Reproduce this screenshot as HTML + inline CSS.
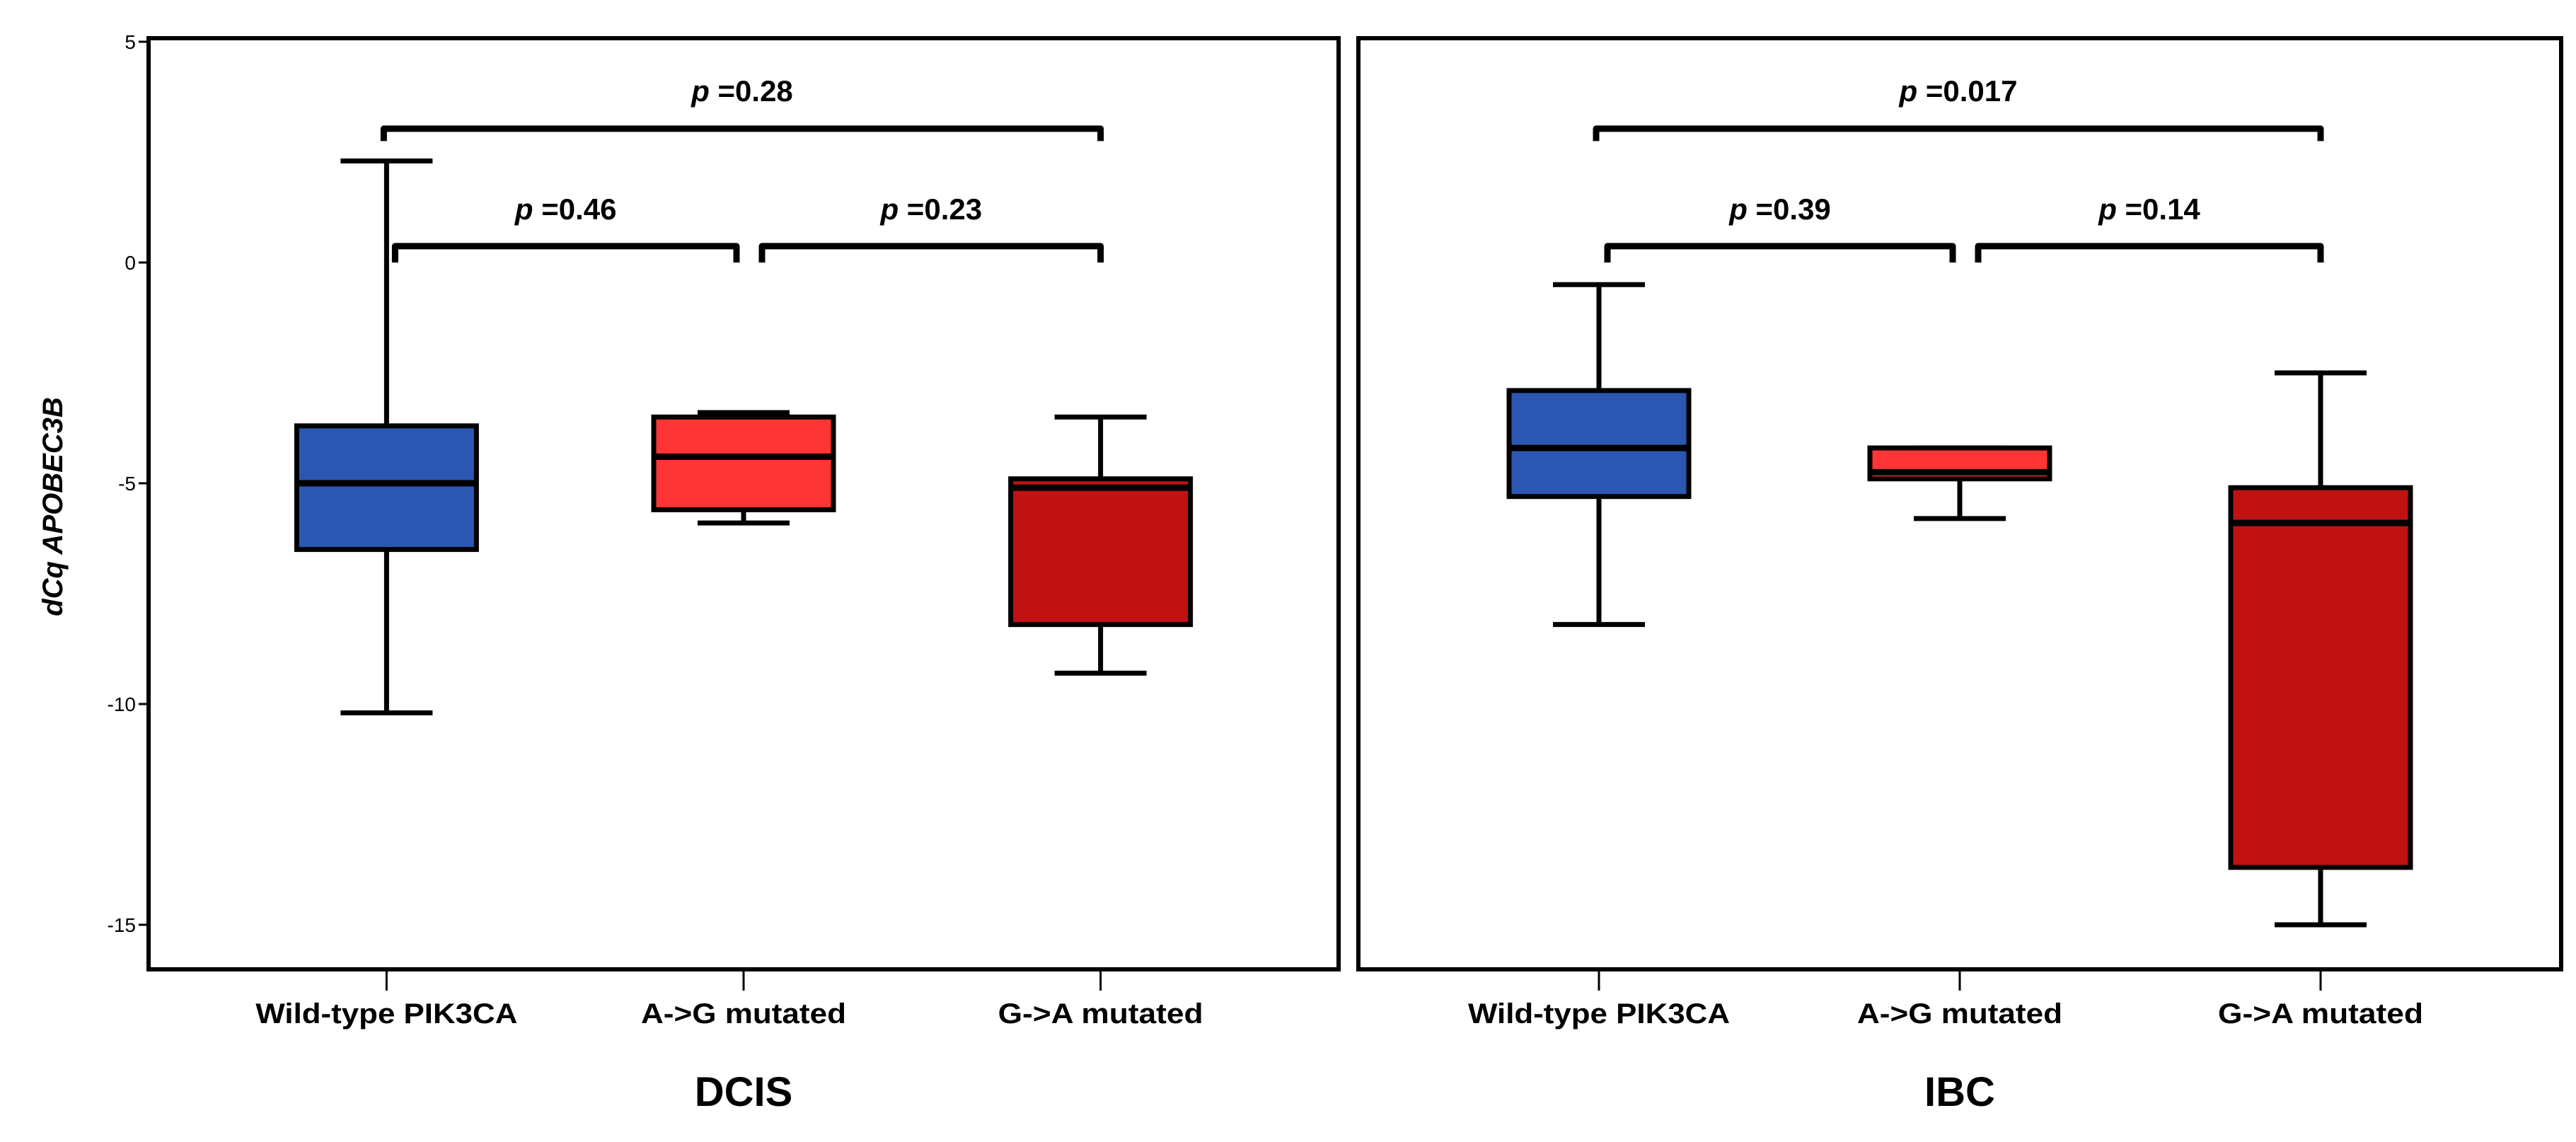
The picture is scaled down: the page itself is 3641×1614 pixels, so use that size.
<!DOCTYPE html>
<html><head><meta charset="utf-8"><style>
html,body{margin:0;padding:0;background:#fff;}
svg text{font-family:"Liberation Sans",Arial,sans-serif;}
</style></head><body>
<svg id="chart" width="3641" height="1609" viewBox="0 0 3641 1609" xmlns="http://www.w3.org/2000/svg">
<rect x="0" y="0" width="3641" height="1609" fill="#fff"/>
<g id="axes"></g>
<g id="marks"></g>
</svg>
<script>
const panels = ["DCIS", "IBC"];
const categories = ["Wild-type PIK3CA", "A->G mutated", "G->A mutated"];
const whiskerHigh = [[2.3, -3.4, -3.5], [-0.5, -4.2, -2.5]];
const q3 = [[-3.7, -3.5, -4.9], [-2.9, -4.2, -5.1]];
const medians = [[-5.0, -4.4, -5.1], [-4.2, -4.75, -5.9]];
const q1 = [[-6.5, -5.6, -8.2], [-5.3, -4.9, -13.7]];
const whiskerLow = [[-10.2, -5.9, -9.3], [-8.2, -5.8, -15.0]];
const pLabels = [["0.28", "0.46", "0.23"], ["0.017", "0.39", "0.14"]];
const yTicks = [5, 0, -5, -10, -15];
const colors = ["#2B57B2", "#FF3535", "#C01212"];

const NS = "http://www.w3.org/2000/svg";
const axes = document.getElementById('axes');
const marks = document.getElementById('marks');
function mk(tag, attrs, parent){const e=document.createElementNS(NS,tag);for(const k in attrs)e.setAttribute(k,attrs[k]);parent.appendChild(e);return e;}
const y = v => 371 - v * 62.4;
const panelX = [[210, 1892], [1920, 3620]];
const top_ = 54, bottom = 1370;
const xCat = (p, i) => { const [a,b] = panelX[p]; const w=b-a; return a + w*(0.2 + 0.3*i); };

yTicks.forEach(t => {
  const l = mk('line', {x1:196, x2:210, y1:y(t), y2:y(t), stroke:'#000','stroke-width':3}, axes);
  
  
  const tx = mk('text', {x:192, y:y(t)+10, 'text-anchor':'end','font-size':28}, axes);
  
  
  tx.textContent = t;
});
const yt = mk('text', {x:0, y:0, transform:'translate(88,716) rotate(-90)', 'text-anchor':'middle','font-size':40,'font-weight':'bold','font-style':'italic'}, axes);


yt.textContent = 'dCq APOBEC3B';

panels.forEach((pn, p) => {
  const [a,b] = panelX[p];
  const fr = mk('rect', {x:a, y:top_, width:b-a, height:bottom-top_, fill:'none', stroke:'#000','stroke-width':6}, axes);
  
  
  const title = mk('text', {x:(a+b)/2, y:1563, 'text-anchor':'middle','font-size':58,'font-weight':'bold'}, axes);
  
  
  title.textContent = pn;
  categories.forEach((c, i) => {
    const cx = xCat(p, i);
    const tk = mk('line', {x1:cx, x2:cx, y1:bottom, y2:bottom+30, stroke:'#000','stroke-width':3}, axes);
    
    
    const lb = mk('text', {x:cx, y:1446, 'text-anchor':'middle','font-size':40,'font-weight':'bold', textLength: c.length > 13 ? 370 : 290, lengthAdjust:'spacingAndGlyphs'}, axes);
    
    
    lb.textContent = c;

    const g = mk('g', {}, marks);
    
    
    const hw = 127, cw = 65, sw = 7;
    mk('line', {x1:cx, x2:cx, y1:y(whiskerHigh[p][i]), y2:y(whiskerLow[p][i]), stroke:'#000','stroke-width':sw}, g);
    mk('line', {x1:cx-cw, x2:cx+cw, y1:y(whiskerHigh[p][i]), y2:y(whiskerHigh[p][i]), stroke:'#000','stroke-width':sw}, g);
    mk('line', {x1:cx-cw, x2:cx+cw, y1:y(whiskerLow[p][i]), y2:y(whiskerLow[p][i]), stroke:'#000','stroke-width':sw}, g);
    mk('rect', {x:cx-hw, y:y(q3[p][i]), width:2*hw, height:y(q1[p][i])-y(q3[p][i]), fill:colors[i], stroke:'#000','stroke-width':sw}, g);
    mk('line', {x1:cx-hw, x2:cx+hw, y1:y(medians[p][i]), y2:y(medians[p][i]), stroke:'#000','stroke-width':9}, g);
  });
  const br = [[0,2,3.03,2.75], [0,1,0.37,0.0], [1,2,0.37,0.0]];
  br.forEach((bk, k) => {
    const x1 = xCat(p,bk[0]) + (k===0?-4:(k===1?12:26)), x2 = xCat(p,bk[1]) + (k===1?-10:0);
    const pth = mk('path', {d:`M${x1},${y(bk[3])} L${x1},${y(bk[2])} L${x2},${y(bk[2])} L${x2},${y(bk[3])}`, fill:'none', stroke:'#000','stroke-width':9,'stroke-linejoin':'round'}, marks);
    
    
    const t = mk('text', {x:(x1+x2)/2, y:(k===0?143:310), 'text-anchor':'middle','font-size':42,'font-weight':'bold'}, marks);
    
    
    const it = mk('tspan', {'font-style':'italic'}, t); it.textContent = 'p';
    const rest = mk('tspan', {}, t); rest.textContent = ' =' + pLabels[p][k];
  });
});
</script>
</body></html>
